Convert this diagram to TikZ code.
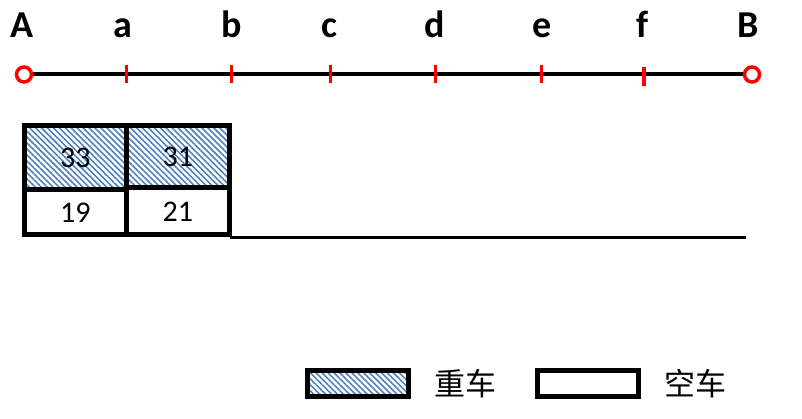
\documentclass[tikz,border=0pt]{standalone}
\usepackage{fontspec}
\setmainfont{Carlito}
\newfontfamily\cjk{Noto Sans CJK SC}
\usetikzlibrary{patterns.meta}
\definecolor{hatchblue}{RGB}{79,129,189}

\begin{document}
\begin{tikzpicture}[x=1pt, y=-1pt,
  every node/.style={inner sep=0pt, outer sep=0pt},
  station/.style={anchor=base, font=\fontsize{38}{40}\selectfont\bfseries},
  heavy/.style={rectangle, draw, line width=5pt, pattern={Lines[angle=-45, distance=4.2pt, line width=1.6pt]}, pattern color=hatchblue, font=\fontsize{30}{32}\selectfont},
  empty/.style={rectangle, draw, line width=5pt, fill=white, font=\fontsize{30}{32}\selectfont},
  endpoint/.style={circle, draw=red, fill=white, line width=3.5pt, minimum size=15pt},
  legendtext/.style={font=\cjk\fontsize{31}{33}\selectfont}]

\useasboundingbox (0,0) rectangle (802,419);

% stations
\node[station] (lA) at (22,38) {A};
\node[station] (la) at (123,38) {a};
\node[station] (lb) at (232,38) {b};
\node[station] (lc) at (329.5,38) {c};
\node[station] (ld) at (435,38) {d};
\node[station] (le) at (542,38) {e};
\node[station] (lf) at (643,38) {f};
\node[station] (lB) at (748,38) {B};

\coordinate (ta) at (126.7,74.5);
\coordinate (tb) at (231.7,74.5);
\coordinate (tc) at (330.7,74.5);
\coordinate (td) at (435.7,74.5);
\coordinate (te) at (541.7,74.5);
\coordinate (tf) at (644,76);

\draw[line width=4pt] (24,74.5) -- (752,74.5);
\foreach \t in {ta,tb,tc,td,te}
  \draw[red, line width=3.5pt] ([yshift=9pt]\t) -- ([yshift=-9pt]\t);
\draw[red, line width=3.5pt] ([yshift=9pt]tf) -- ([yshift=-10pt]tf);

\node[endpoint] (pA) at (24,74.5) {};
\node[endpoint] (pB) at (752,74.5) {};

% trains
\node[heavy, minimum width=101.5pt, minimum height=64.5pt] (h1) at (75.25,157.75) {33};
\node[heavy, minimum width=103.5pt, minimum height=62.5pt] (h2) at (177.75,156.75) {31};
\node[empty, minimum width=101.5pt, minimum height=45pt] (e1) at (75.25,212.5) {19};
\node[empty, minimum width=103.5pt, minimum height=47pt] (e2) at (177.75,211.5) {21};

\coordinate (trackend) at (746,238);
\draw[line width=3pt] ([yshift=-3pt]e2.south east) -- (trackend);

% legend
\node[heavy, minimum width=101pt, minimum height=26pt] (legheavy) at (357.5,383) {};
\node[legendtext] (txtheavy) at (465,384) {重车};
\node[empty, minimum width=101pt, minimum height=26pt] (legempty) at (587.5,383) {};
\node[legendtext] (txtempty) at (695,384) {空车};

\end{tikzpicture}
\end{document}
